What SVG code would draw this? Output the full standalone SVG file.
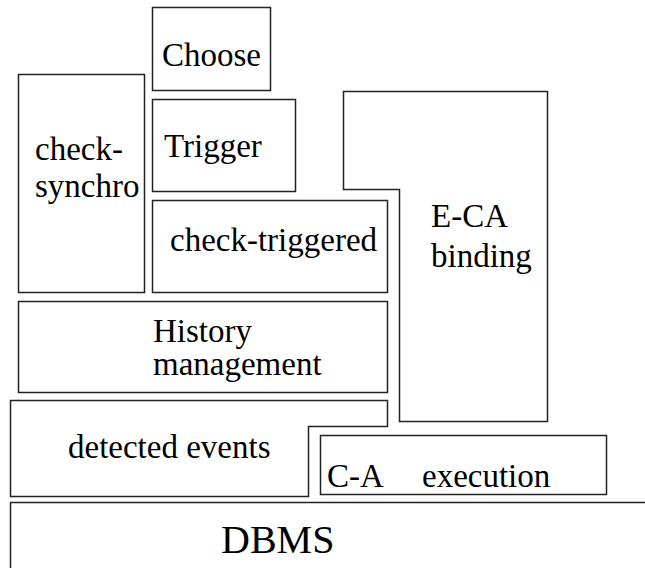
<svg xmlns="http://www.w3.org/2000/svg" width="645" height="568" viewBox="0 0 645 568">
<style>
.b{fill:#fff;stroke:#222;stroke-width:1.5}
.t{font-family:"Liberation Serif","Times New Roman",Times,serif;font-size:33px;fill:#000}
.big{font-size:40px}
</style>
<rect width="645" height="568" fill="#fff"/>
<g id="choose"><rect class="b" x="152.5" y="7.5" width="118" height="83"/><text class="t" x="162" y="66">Choose</text></g>
<g id="trigger"><rect class="b" x="152.5" y="99.5" width="143" height="92"/><text class="t" x="164" y="157">Trigger</text></g>
<g id="check-synchro"><rect class="b" x="18.5" y="74.5" width="126" height="218"/><text class="t"><tspan x="35" y="160">check-</tspan><tspan x="35" y="197">synchro</tspan></text></g>
<g id="check-triggered"><rect class="b" x="152.5" y="200.5" width="235" height="92"/><text class="t" x="170" y="251">check-triggered</text></g>
<g id="history"><rect class="b" x="18.5" y="301.5" width="369" height="91"/><text class="t"><tspan x="153" y="342">History</tspan><tspan x="153" y="375">management</tspan></text></g>
<g id="eca"><path class="b" d="M343.5 91.5H547.5V421.5H399.5V189.5H343.5Z"/><text class="t"><tspan x="431" y="227">E-CA</tspan><tspan x="431" y="267">binding</tspan></text></g>
<g id="detected"><path class="b" d="M10.5 400.5H387.5V426.5H308.5V496.5H10.5Z"/><text class="t" x="68" y="458">detected events</text></g>
<g id="ca"><rect class="b" x="320.5" y="435.5" width="286" height="59"/><text class="t"><tspan x="327" y="487">C-A</tspan><tspan x="422" y="487">execution</tspan></text></g>
<g id="dbms"><rect class="b" x="10.5" y="502.5" width="700" height="100"/><text class="t big" x="221" y="553">DBMS</text></g>
<g id="connectors"/>
</svg>
